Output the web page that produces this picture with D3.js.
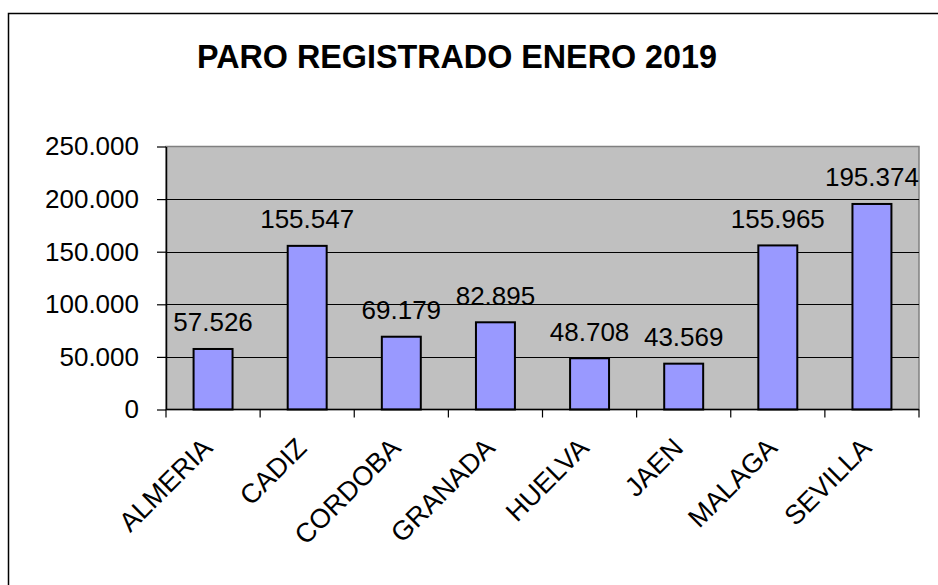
<!DOCTYPE html>
<html>
<head>
<meta charset="utf-8">
<script src="https://cdn.jsdelivr.net/npm/d3@7"></script>
<style>
  body { margin: 0; background: #fff; }
  svg { display: block; font-family: "Liberation Sans", Arial, sans-serif; }
</style>
</head>
<body>
<svg id="chart" width="938" height="585"></svg>
<script>
"use strict";

const provincias = ["ALMERIA", "CADIZ", "CORDOBA", "GRANADA", "HUELVA", "JAEN", "MALAGA", "SEVILLA"];
const parados = [57526, 155547, 69179, 82895, 48708, 43569, 155965, 195374];
const y_ticks = [0, 50000, 100000, 150000, 200000, 250000];
const titulo = "PARO REGISTRADO ENERO 2019";

const plot_left = 166;
const plot_right = 919;
const plot_top = 146.5;
const plot_bottom = 409.5;

const es = d3.formatLocale({ decimal: ",", thousands: ".", grouping: [3], currency: ["", " €"] });
const fmt = es.format(",d");

const svg = d3.select("#chart");

// marco exterior del grafico
svg.append("rect")
    .attr("x", 8.5)
    .attr("y", 13.5)
    .attr("width", 960)
    .attr("height", 600)
    .attr("fill", "#fff")
    .attr("stroke", "#000")
    .attr("stroke-width", 1.5);

svg.append("text")
    .attr("x", 457)
    .attr("y", 68)
    .attr("text-anchor", "middle")
    .attr("font-size", 32.3)
    .attr("font-weight", "bold")
    .text(titulo);

const y = d3.scaleLinear().domain([0, 250000]).range([plot_bottom, plot_top]);

const x_cat = d3.scaleBand().domain(provincias).range([plot_left, plot_right]).padding(0);
const x = d3.scaleBand().domain(provincias).range([plot_left, plot_right])
    .paddingInner(0.586).paddingOuter(0.293);

// fondo gris del area de trazado
svg.append("rect")
    .attr("x", plot_left)
    .attr("y", plot_top)
    .attr("width", plot_right - plot_left)
    .attr("height", plot_bottom - plot_top)
    .attr("fill", "#c0c0c0")
    .attr("stroke", "#808080")
    .attr("stroke-width", 1.5);

// lineas de division
svg.append("g")
    .selectAll("line")
    .data(y_ticks.filter(d => d > 0 && d < 250000))
    .enter().append("line")
    .attr("x1", plot_left)
    .attr("x2", plot_right)
    .attr("y1", d => Math.round(y(d)) + 0.5)
    .attr("y2", d => Math.round(y(d)) + 0.5)
    .attr("stroke", "#000")
    .attr("stroke-width", 1.2);

// eje Y
const y_axis = svg.append("g")
    .attr("transform", `translate(${plot_left},0)`)
    .call(d3.axisLeft(y).tickValues(y_ticks).tickFormat(fmt).tickSize(9).tickSizeOuter(0).tickPadding(18));
y_axis.select(".domain").attr("stroke", "#000").attr("stroke-width", 1.5);
y_axis.selectAll(".tick line").attr("stroke", "#000").attr("stroke-width", 1.2);
y_axis.selectAll(".tick text")
    .attr("font-size", 26)
    .attr("font-family", "'Liberation Sans', Arial, sans-serif")
    .attr("fill", "#000");

// barras
svg.append("g")
    .selectAll("rect")
    .data(parados)
    .enter().append("rect")
    .attr("x", (d, i) => x(provincias[i]))
    .attr("y", d => y(d))
    .attr("width", x.bandwidth())
    .attr("height", d => plot_bottom - y(d))
    .attr("fill", "#9999ff")
    .attr("stroke", "#000")
    .attr("stroke-width", 2);

// etiquetas de datos
svg.append("g")
    .selectAll("text")
    .data(parados)
    .enter().append("text")
    .attr("x", (d, i) => x(provincias[i]) + x.bandwidth() / 2)
    .attr("y", d => y(d) - 17.5)
    .attr("text-anchor", "middle")
    .attr("font-size", 26)
    .attr("fill", "#000")
    .text(d => fmt(d));

// eje X
svg.append("line")
    .attr("x1", plot_left)
    .attr("x2", plot_right)
    .attr("y1", plot_bottom)
    .attr("y2", plot_bottom)
    .attr("stroke", "#000")
    .attr("stroke-width", 1.5);

const bordes = provincias.map(p => x_cat(p)).concat([plot_right]);
svg.append("g")
    .selectAll("line")
    .data(bordes)
    .enter().append("line")
    .attr("x1", d => d)
    .attr("x2", d => d)
    .attr("y1", plot_bottom)
    .attr("y2", plot_bottom + 8)
    .attr("stroke", "#000")
    .attr("stroke-width", 1.2);

svg.append("g")
    .selectAll("text")
    .data(provincias)
    .enter().append("text")
    .attr("transform", d => `translate(${x_cat(d) + x_cat.bandwidth() / 2 + 1},${plot_bottom + 40}) rotate(-45)`)
    .attr("text-anchor", "end")
    .attr("font-size", 27)
    .attr("fill", "#000")
    .text(d => d);
</script>
</body>
</html>
